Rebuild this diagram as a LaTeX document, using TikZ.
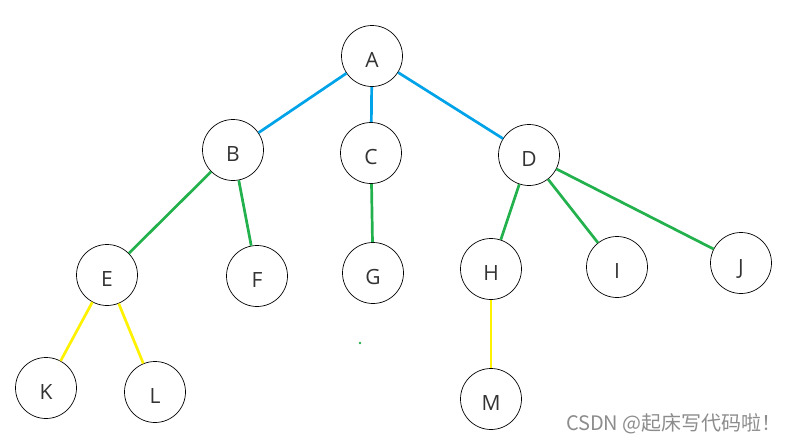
\documentclass[tikz,border=0pt]{standalone}
\usepackage{fontspec}
\setmainfont{Open Sans}
\newfontfamily\cjk{Noto Sans CJK SC}

\definecolor{treeblue}{RGB}{0,162,232}
\definecolor{treegreen}{RGB}{34,177,76}
\definecolor{treeyellow}{RGB}{255,242,0}

\begin{document}
\begin{tikzpicture}[x=1pt,y=-1pt,
  vert/.style={draw,circle,minimum size=61pt,inner sep=0pt,line width=0.7pt,
    text=black!80,text height=22pt,text depth=0pt,
    font=\fontsize{21}{25}\selectfont},
  link/.style={line width=2.7pt}]
  \useasboundingbox (0,0) rectangle (787,442);

  % Draw the vertices, level by level
  \node[vert] (A) at (372,56) {A};

  \node[vert] (B) at (233,150) {B};
  \node[vert] (C) at (371,153) {C};
  \node[vert] (D) at (529,155) {D};

  \node[vert] (E) at (107,275) {E};
  \node[vert] (F) at (257,276) {F};
  \node[vert] (G) at (373,273) {G};
  \node[vert] (H) at (491,269) {H};
  \node[vert] (I) at (617,267) {I};
  \node[vert] (J) at (741,263) {J};

  \node[vert] (K) at (46,388) {K};
  \node[vert] (L) at (155,392) {L};
  \node[vert] (M) at (491,399) {M};

  % Connect the levels
  \foreach \c in {B,C,D} {
    \draw[link,treeblue] (A) -- (\c);
  }
  \foreach \p/\c in {B/E,B/F,C/G,D/H,D/I,D/J} {
    \draw[link,treegreen] (\p) -- (\c);
  }
  \foreach \p/\c in {E/K,E/L,H/M} {
    \draw[link,treeyellow] (\p) -- (\c);
  }

  \fill[treegreen] (360,343) circle (1.3); % stray dot

  % Watermark
  \node[anchor=east,text=black!45,inner sep=0pt,font=\fontsize{20}{24}\selectfont]
    (mark) at (782,424) {\cjk CSDN @起床写代码啦！};

\end{tikzpicture}
\end{document}
